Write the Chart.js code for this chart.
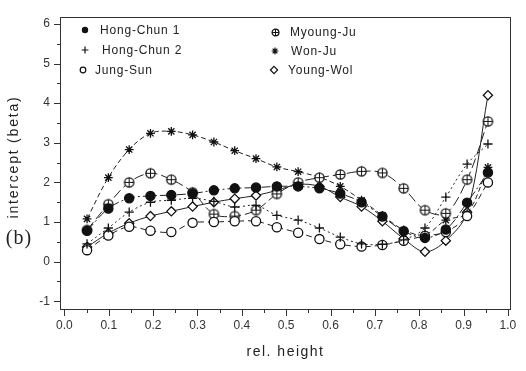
<!DOCTYPE html>
<html>
<head>
<meta charset="utf-8">
<script src="https://cdn.jsdelivr.net/npm/chart.js@4.4.0/dist/chart.umd.min.js"></script>
<style>
html,body{margin:0;padding:0;background:#fff;}
#c{display:block;}
</style>
</head>
<body>
<canvas id="c" width="526" height="371"></canvas>
<script>
// ---- data ----
const relHeight = [0.051,0.099,0.146,0.194,0.241,0.289,0.337,0.384,0.432,0.479,0.527,0.575,0.622,0.670,0.717,0.765,0.813,0.860,0.908,0.955];
const hongChun1 = [0.78,1.34,1.60,1.66,1.68,1.72,1.80,1.85,1.87,1.90,1.90,1.85,1.72,1.50,1.14,0.77,0.60,0.81,1.49,2.25];
const hongChun2 = [0.45,0.85,1.25,1.50,1.55,1.60,1.52,1.38,1.42,1.17,1.05,0.85,0.62,0.45,0.44,0.55,0.85,1.63,2.46,2.97];
const jungSun   = [0.29,0.66,0.88,0.78,0.75,0.98,1.00,1.02,1.02,0.87,0.73,0.57,0.44,0.38,0.42,0.53,0.65,0.75,1.15,2.00];
const myoungJu  = [0.80,1.45,2.00,2.23,2.07,1.75,1.20,1.15,1.30,1.71,2.00,2.12,2.20,2.28,2.24,1.85,1.30,1.22,2.07,3.54];
const wonJu     = [1.08,2.12,2.83,3.24,3.29,3.20,3.02,2.80,2.60,2.39,2.27,2.13,1.90,1.55,1.17,0.80,0.68,1.05,1.22,2.38];
const youngWol  = [0.37,0.72,0.97,1.15,1.27,1.39,1.50,1.59,1.67,1.80,1.95,1.90,1.63,1.39,1.02,0.58,0.25,0.53,1.25,4.20];
const seriesNames = ['Hong-Chun 1','Hong-Chun 2','Jung-Sun','Myoung-Ju','Won-Ju','Young-Wol'];
const xTickValues = [0,0.1,0.2,0.3,0.4,0.5,0.6,0.7,0.8,0.9,1.0];
const yTickValues = [-1,0,1,2,3,4,5,6];
const xTitle = 'rel. height';
const yTitle = 'intercept (beta)';
const panelTag = '(b)';

const INK = '#111';

function makeOplus(r){
  const s = 2*Math.ceil(r)+3;
  const c = document.createElement('canvas');
  c.width = s; c.height = s;
  const g = c.getContext('2d');
  const m = s/2;
  g.fillStyle = '#fff'; g.strokeStyle = INK; g.lineWidth = 1.3;
  g.beginPath(); g.arc(m,m,r,0,Math.PI*2); g.fill(); g.stroke();
  g.lineWidth = 1;
  g.beginPath(); g.moveTo(m-r,m); g.lineTo(m+r,m); g.moveTo(m,m-r); g.lineTo(m,m+r); g.stroke();
  return c;
}
const oplusBig = makeOplus(4.6);
const oplusSmall = makeOplus(3.4);

const styles = [
  {kind:'filled', pointStyle:'circle', bg:INK, r:4.6, dash:[9,3,2,3]},
  {kind:'cross', pointStyle:'cross', bg:INK, r:4.6, dash:[2,3]},
  {kind:'open', pointStyle:'circle', bg:'#fff', r:4.6, dash:[6,4]},
  {kind:'oplus', pointStyle:oplusBig, bg:'#fff', r:4.6, dash:[10,4]},
  {kind:'star', pointStyle:'star', bg:INK, r:4.4, dash:[5,3]},
  {kind:'diamond', pointStyle:'rectRot', bg:'#fff', r:4.6, dash:[]}
];
const seriesValues = [hongChun1, hongChun2, jungSun, myoungJu, wonJu, youngWol];

const datasets = seriesValues.map((vals, i) => ({
  label: seriesNames[i],
  data: relHeight.map((x, k) => ({x: x, y: vals[k]})),
  showLine: true,
  borderColor: '#222',
  borderWidth: 1,
  borderDash: styles[i].dash,
  tension: 0.35,
  fill: false,
  pointStyle: styles[i].pointStyle,
  pointRadius: styles[i].r,
  pointBackgroundColor: styles[i].bg,
  pointBorderColor: INK,
  pointBorderWidth: 1.3
}));

function drawMarker(ctx, kind, x, y, r){
  ctx.save();
  ctx.setLineDash([]);
  ctx.strokeStyle = INK; ctx.fillStyle = INK; ctx.lineWidth = 1.2;
  ctx.beginPath();
  if (kind === 'filled') { ctx.arc(x,y,r,0,Math.PI*2); ctx.fill(); }
  else if (kind === 'open') { ctx.fillStyle='#fff'; ctx.arc(x,y,r,0,Math.PI*2); ctx.fill(); ctx.stroke(); }
  else if (kind === 'cross') { ctx.moveTo(x-r,y); ctx.lineTo(x+r,y); ctx.moveTo(x,y-r); ctx.lineTo(x,y+r); ctx.stroke(); }
  else if (kind === 'star') {
    const d = r*0.7;
    ctx.moveTo(x-r,y); ctx.lineTo(x+r,y); ctx.moveTo(x,y-r); ctx.lineTo(x,y+r);
    ctx.moveTo(x-d,y-d); ctx.lineTo(x+d,y+d); ctx.moveTo(x-d,y+d); ctx.lineTo(x+d,y-d); ctx.stroke();
  }
  else if (kind === 'diamond') { ctx.fillStyle='#fff'; ctx.moveTo(x,y-r); ctx.lineTo(x+r,y); ctx.lineTo(x,y+r); ctx.lineTo(x-r,y); ctx.closePath(); ctx.fill(); ctx.stroke(); }
  else if (kind === 'oplus') { ctx.drawImage(oplusSmall, Math.round(x-oplusSmall.width/2), Math.round(y-oplusSmall.height/2)); }
  ctx.restore();
}

const decorPlugin = {
  id: 'decor',
  afterDraw(chart){
    const ctx = chart.ctx;
    const {left, right, top, bottom} = chart.chartArea;
    const xs = chart.scales.x, ys = chart.scales.y;
    ctx.save();
    ctx.setLineDash([]);
    ctx.strokeStyle = '#333'; ctx.lineWidth = 1;
    ctx.strokeRect(Math.round(left)+0.5, Math.round(top)+0.5, Math.round(right-left)-1, Math.round(bottom-top)-1);
    ctx.beginPath();
    for (let k = 0; k <= 20; k++) {
      const px = Math.round(xs.getPixelForValue(k/20)) + 0.5;
      const len = (k % 2 === 0) ? 6 : 3;
      ctx.moveTo(px, bottom); ctx.lineTo(px, bottom + len);
    }
    for (let k = -2; k <= 12; k++) {
      const py = Math.round(ys.getPixelForValue(k/2)) + 0.5;
      const len = (k % 2 === 0) ? 6 : 3;
      ctx.moveTo(left, py); ctx.lineTo(left - len, py);
    }
    ctx.stroke();

    ctx.fillStyle = '#222';
    ctx.textAlign = 'center'; ctx.textBaseline = 'middle';
    ctx.letterSpacing = '1.5px';
    ctx.font = '14px "Liberation Sans", Arial, sans-serif';
    ctx.fillText(xTitle, (left+right)/2, 352);
    ctx.save();
    ctx.translate(14, 157);
    ctx.rotate(-Math.PI/2);
    ctx.letterSpacing = '1.8px';
    ctx.fillText(yTitle, 0, 0);
    ctx.restore();
    ctx.letterSpacing = '1px';
    ctx.font = '20px "Liberation Serif", "DejaVu Serif", serif';
    ctx.fillText(panelTag, 19, 239);

    ctx.letterSpacing = '0.8px';
    ctx.font = '12px "Liberation Sans", Arial, sans-serif';
    ctx.textAlign = 'left';
    const legendPos = [
      {mx:85, tx:100, y:30}, {mx:85, tx:102, y:50}, {mx:83, tx:95, y:70},
      {mx:275, tx:290, y:32}, {mx:275, tx:291, y:51}, {mx:274, tx:288, y:70}
    ];
    const mr = [3.2, 3.4, 2.8, 3.4, 3.4, 3.6];
    seriesNames.forEach((name, i) => {
      const p = legendPos[i];
      drawMarker(ctx, styles[i].kind, p.mx, p.y, mr[i]);
      ctx.fillStyle = '#222';
      ctx.fillText(name, p.tx, p.y + 1);
    });
    ctx.restore();
  }
};

new Chart(document.getElementById('c'), {
  type: 'scatter',
  data: { datasets: datasets },
  options: {
    responsive: false,
    animation: false,
    devicePixelRatio: 1,
    layout: { padding: { top: 8, right: 15, left: 0, bottom: 0 } },
    plugins: { legend: { display: false }, tooltip: { enabled: false } },
    scales: {
      x: {
        type: 'linear', min: -0.01, max: 1.007,
        afterFit: s => { s.height = 61; },
        afterBuildTicks: s => { s.ticks = xTickValues.map(v => ({value: v})); },
        ticks: { padding: 8, autoSkip: false, maxRotation: 0, color: '#333',
                 font: { family: '"Liberation Sans", Arial, sans-serif', size: 12 },
                 callback: v => Number(v).toFixed(1) },
        grid: { display: false, drawTicks: false },
        border: { display: false }
      },
      y: {
        type: 'linear', min: -1.22, max: 6.17,
        afterFit: s => { s.width = 60; },
        afterBuildTicks: s => { s.ticks = yTickValues.map(v => ({value: v})); },
        ticks: { padding: 10, autoSkip: false, color: '#333',
                 font: { family: '"Liberation Sans", Arial, sans-serif', size: 12 },
                 callback: v => String(v) },
        grid: { display: false, drawTicks: false },
        border: { display: false }
      }
    }
  },
  plugins: [decorPlugin]
});
</script>
</body>
</html>
